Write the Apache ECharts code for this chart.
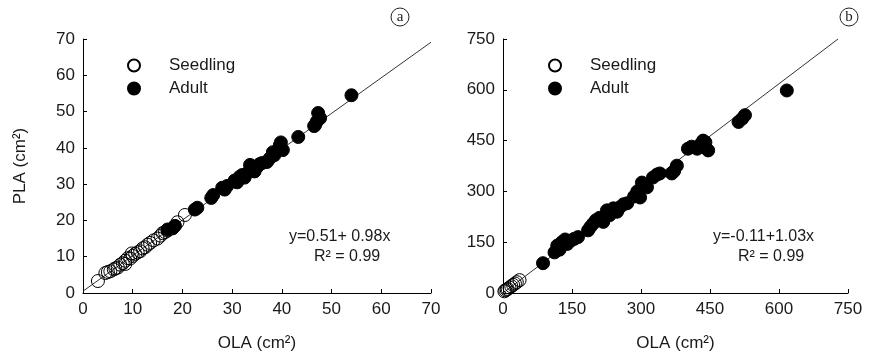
<!DOCTYPE html>
<html>
<head>
<meta charset="utf-8">
<script src="https://cdn.jsdelivr.net/npm/echarts@6/dist/echarts.min.js"></script>
<style>
  html, body { margin: 0; padding: 0; background: #fff; }
  #chart { width: 873px; height: 363px; }
</style>
</head>
<body>
<div id="chart"></div>
<script>
// panel a: PLA vs OLA (cm²), small range
const seedlingA = [
  [3, 3.3], [4.5, 5.5], [5, 5.8], [5.5, 6], [6.2, 6.5], [6.5, 6.8], [7, 7], [7.5, 7.8],
  [8, 8.2], [8.5, 8], [8.5, 8.9], [9, 9.6], [9.5, 9.5], [9.8, 10.9], [10, 10.2], [10.5, 10.8],
  [11, 11.2], [11.5, 11.5], [12, 12.3], [12.5, 12.6], [13, 13.3], [13.5, 13.8], [14.2, 14.5],
  [15, 15], [15.6, 15.8], [16, 16.5], [16.5, 16.8], [17, 17.2], [19, 19.5], [20.5, 21.5]
];
const adultA = [
  [17, 17.5], [18, 17.8], [18.5, 18.5], [22.5, 23], [23, 23.5], [25.8, 26.2], [26.2, 27],
  [28, 29], [28.5, 28.5], [29, 29.5], [30.5, 31], [31, 30.5], [31.5, 32], [32, 32.5],
  [32.5, 31.8], [33, 33], [33.6, 35.3], [34, 34], [34.5, 33.5], [35, 34.7], [35.5, 35.5],
  [36, 35.8], [37, 36.1], [37.5, 37], [38.2, 38.8], [38.5, 38], [39.6, 40.8], [40.2, 39.4],
  [39.8, 41.5], [43.3, 43], [46.5, 46], [46.7, 46.3], [47, 47.2], [47.3, 49.6], [47.7, 48.2],
  [54, 54.5]
];
// panel b: larger range
const seedlingB = [
  [3, 5], [5, 8], [8, 10], [10, 12], [14, 16], [18, 20], [22, 24], [26, 28], [30, 32], [36, 38]
];
const adultB = [
  [87, 88], [112, 120], [118, 140], [123, 128], [128, 150], [135, 158], [140, 145], [148, 155],
  [155, 160], [163, 165], [185, 185], [190, 195], [196, 205], [202, 215], [210, 222], [218, 210],
  [226, 244], [232, 230], [240, 250], [248, 240], [254, 253], [262, 262], [270, 265], [285, 285],
  [292, 300], [298, 282], [302, 326], [308, 320], [313, 312], [326, 341], [335, 350], [341, 353],
  [367, 353], [372, 360], [378, 376], [402, 426], [410, 432], [422, 426], [430, 440], [435, 450],
  [440, 445], [446, 421], [512, 505], [520, 515], [526, 525], [617, 598]
];
// regression: [intercept, slope]
const fitA = [0.51, 0.98];
const fitB = [-0.11, 1.03];
const ticksA = [0, 10, 20, 30, 40, 50, 60, 70];
const ticksB = [0, 150, 300, 450, 600, 750];

const FONT = 'Liberation Sans, Arial, sans-serif';

const fitLine = (fit, max) => {
  const [b0, b1] = fit;
  const xEnd = Math.min(max, (max - b0) / b1);
  return [[Math.max(0, -b0 / b1), Math.max(0, b0)], [xEnd, b0 + b1 * xEnd]];
};

const axisCommon = (ticks) => ({
  type: 'value',
  min: ticks[0],
  max: ticks[ticks.length - 1],
  interval: ticks[1] - ticks[0],
  axisLine: { show: true, lineStyle: { color: '#000', width: 1 } },
  axisTick: { show: true, inside: true, length: 4, lineStyle: { color: '#000' } },
  axisLabel: { color: '#1a1a1a', fontSize: 17, fontFamily: FONT, margin: 8 },
  splitLine: { show: false }
});

const chart = echarts.init(document.getElementById('chart'));

const openStyle = { color: 'rgba(255,255,255,0)', borderColor: '#000', borderWidth: 1, opacity: 1 };
const fillStyle = { color: '#000', borderColor: '#000', borderWidth: 1, opacity: 1 };

const legendBase = {
  orient: 'vertical', top: 52, itemWidth: 12, itemHeight: 12, itemGap: 6,
  icon: 'circle', data: ['Seedling', 'Adult'],
  textStyle: { fontSize: 17, fontFamily: FONT, color: '#1a1a1a', padding: [0, 0, 0, 24] }
};

const eqText = (text, left, top) => ({
  type: 'text', left, top, style: { text, font: '16px ' + FONT, fill: '#1a1a1a' }
});

chart.setOption({
  animation: false,
  grid: [
    { left: 83, top: 39, width: 348, height: 254 },
    { left: 503, top: 39, width: 345, height: 254 }
  ],
  xAxis: [
    { ...axisCommon(ticksA), gridIndex: 0, name: 'OLA (cm²)', nameLocation: 'middle', nameGap: 42,
      nameTextStyle: { color: '#1a1a1a', fontSize: 17, fontFamily: FONT } },
    { ...axisCommon(ticksB), gridIndex: 1, name: 'OLA (cm²)', nameLocation: 'middle', nameGap: 42,
      nameTextStyle: { color: '#1a1a1a', fontSize: 17, fontFamily: FONT } }
  ],
  yAxis: [
    { ...axisCommon(ticksA), gridIndex: 0, name: 'PLA (cm²)', nameLocation: 'middle', nameGap: 54,
      nameTextStyle: { color: '#1a1a1a', fontSize: 17, fontFamily: FONT } },
    { ...axisCommon(ticksB), gridIndex: 1 }
  ],
  legend: [
    { ...legendBase, left: 122 },
    { ...legendBase, left: 543 }
  ],
  series: [
    { type: 'line', xAxisIndex: 0, yAxisIndex: 0, data: fitLine(fitA, 70), symbol: 'none',
      lineStyle: { color: '#333', width: 1 }, silent: true, z: 1 },
    { type: 'line', xAxisIndex: 1, yAxisIndex: 1, data: fitLine(fitB, 750), symbol: 'none',
      lineStyle: { color: '#333', width: 1 }, silent: true, z: 1 },
    { name: 'Seedling', type: 'scatter', xAxisIndex: 0, yAxisIndex: 0, data: seedlingA,
      symbolSize: 13, itemStyle: openStyle, z: 2 },
    { name: 'Adult', type: 'scatter', xAxisIndex: 0, yAxisIndex: 0, data: adultA,
      symbolSize: 13, itemStyle: fillStyle, z: 3 },
    { name: 'Seedling', type: 'scatter', xAxisIndex: 1, yAxisIndex: 1, data: seedlingB,
      symbolSize: 13, itemStyle: openStyle, z: 2 },
    { name: 'Adult', type: 'scatter', xAxisIndex: 1, yAxisIndex: 1, data: adultB,
      symbolSize: 13, itemStyle: fillStyle, z: 3 }
  ],
  graphic: [
    eqText('y=0.51+ 0.98x', 289, 229),
    eqText('R² = 0.99', 314, 249),
    eqText('y=-0.11+1.03x', 713, 229),
    eqText('R² = 0.99', 738, 249),
    { type: 'circle', shape: { cx: 400, cy: 17, r: 9 },
      style: { fill: 'none', stroke: '#222', lineWidth: 1 } },
    { type: 'text', x: 400, y: 17,
      style: { text: 'a', font: '15px Liberation Serif, serif', fill: '#222', align: 'center', verticalAlign: 'middle' } },
    { type: 'circle', shape: { cx: 849, cy: 17, r: 9 },
      style: { fill: 'none', stroke: '#222', lineWidth: 1 } },
    { type: 'text', x: 849, y: 17,
      style: { text: 'b', font: '15px Liberation Serif, serif', fill: '#222', align: 'center', verticalAlign: 'middle' } }
  ]
});
</script>
</body>
</html>
